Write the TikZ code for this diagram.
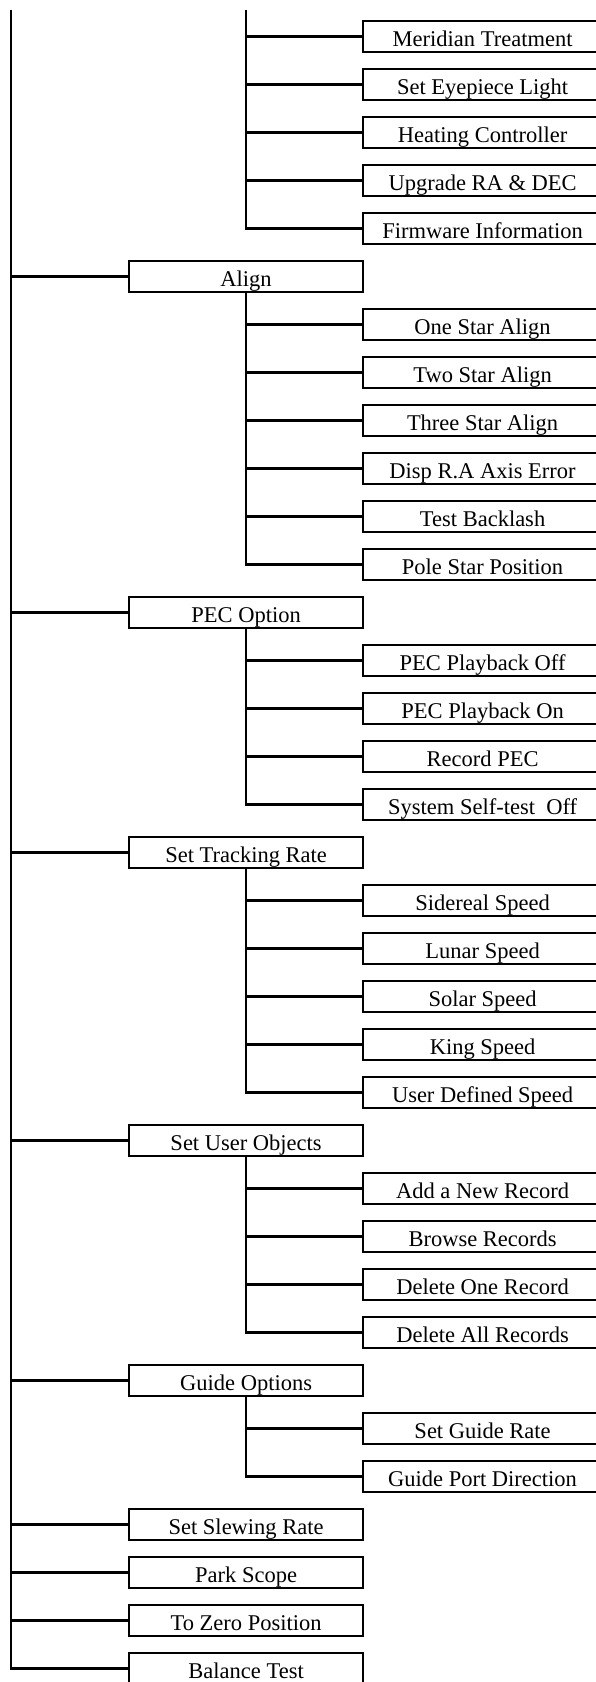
\documentclass[tikz,border=0pt]{standalone}
\usepackage{fontspec}
\setmainfont{Liberation Serif}
\begin{document}
\begin{tikzpicture}[x=1pt,y=-1pt,
  conn/.style={line width=2.2pt},
  basebox/.style={draw, line width=2.2pt, inner sep=0pt, minimum height=31pt,
    text height=19pt, text depth=0pt, anchor=west,
    font=\fontsize{22.5}{26}\selectfont},
  menubox/.style={basebox, minimum width=234pt},
  itembox/.style={basebox, minimum width=239pt}]
\useasboundingbox (0,0) rectangle (596,1682);
\clip (0,0) rectangle (596,1682);
% first (partial) group
\node[itembox] (c1) at (362,36.5) {Meridian Treatment};
\node[itembox] (c2) at (362,84.5) {Set Eyepiece Light};
\node[itembox] (c3) at (362,132.5) {Heating Controller};
\node[itembox] (c4) at (362,180.5) {Upgrade RA \& DEC};
\node[itembox] (c5) at (362,228.5) {Firmware Information};
% Align
\node[menubox] (align) at (128,276.5) {Align};
\node[itembox] (a1) at (362,324.5) {One Star Align};
\node[itembox] (a2) at (362,372.5) {Two Star Align};
\node[itembox] (a3) at (362,420.5) {Three Star Align};
\node[itembox] (a4) at (362,468.5) {Disp R.A Axis Error};
\node[itembox] (a5) at (362,516.5) {Test Backlash};
\node[itembox] (a6) at (362,564.5) {Pole Star Position};
% PEC
\node[menubox] (pec) at (128,612.5) {PEC Option};
\node[itembox] (p1) at (362,660.5) {PEC Playback Off};
\node[itembox] (p2) at (362,708.5) {PEC Playback On};
\node[itembox] (p3) at (362,756.5) {Record PEC};
\node[itembox] (p4) at (362,804.5) {System Self-test\ \ Off};
% Tracking
\node[menubox] (track) at (128,852.5) {Set Tracking Rate};
\node[itembox] (t1) at (362,900.5) {Sidereal Speed};
\node[itembox] (t2) at (362,948.5) {Lunar Speed};
\node[itembox] (t3) at (362,996.5) {Solar Speed};
\node[itembox] (t4) at (362,1044.5) {King Speed};
\node[itembox] (t5) at (362,1092.5) {User Defined Speed};
% User objects
\node[menubox] (user) at (128,1140.5) {Set User Objects};
\node[itembox] (u1) at (362,1188.5) {Add a New Record};
\node[itembox] (u2) at (362,1236.5) {Browse Records};
\node[itembox] (u3) at (362,1284.5) {Delete One Record};
\node[itembox] (u4) at (362,1332.5) {Delete All Records};
% Guide
\node[menubox] (guide) at (128,1380.5) {Guide Options};
\node[itembox] (g1) at (362,1428.5) {Set Guide Rate};
\node[itembox] (g2) at (362,1476.5) {Guide Port Direction};
% single items
\node[menubox] (slew) at (128,1524.5) {Set Slewing Rate};
\node[menubox] (park) at (128,1572.5) {Park Scope};
\node[menubox] (zero) at (128,1620.5) {To Zero Position};
\node[menubox] (balance) at (128,1668.5) {Balance Test};
% trunk
\coordinate (rootstart) at (11,9.5);
\coordinate (substart) at (246,9.5);
\draw[conn] (rootstart) |- (balance.west);
\foreach \n in {align,pec,track,user,guide,slew,park,zero}
  \draw[conn] (rootstart |- \n.west) -- (\n.west);
% first group
\draw[conn] (substart) |- (c5.west);
\foreach \n in {c1,c2,c3,c4}
  \draw[conn] (substart |- \n.west) -- (\n.west);
% align group
\draw[conn] (align.south) |- (a6.west);
\foreach \n in {a1,a2,a3,a4,a5}
  \draw[conn] (align.south |- \n.west) -- (\n.west);
% pec group
\draw[conn] (pec.south) |- (p4.west);
\foreach \n in {p1,p2,p3}
  \draw[conn] (pec.south |- \n.west) -- (\n.west);
% tracking group
\draw[conn] (track.south) |- (t5.west);
\foreach \n in {t1,t2,t3,t4}
  \draw[conn] (track.south |- \n.west) -- (\n.west);
% user group
\draw[conn] (user.south) |- (u4.west);
\foreach \n in {u1,u2,u3}
  \draw[conn] (user.south |- \n.west) -- (\n.west);
% guide group
\draw[conn] (guide.south) |- (g2.west);
\draw[conn] (guide.south |- g1.west) -- (g1.west);
\end{tikzpicture}
\end{document}
